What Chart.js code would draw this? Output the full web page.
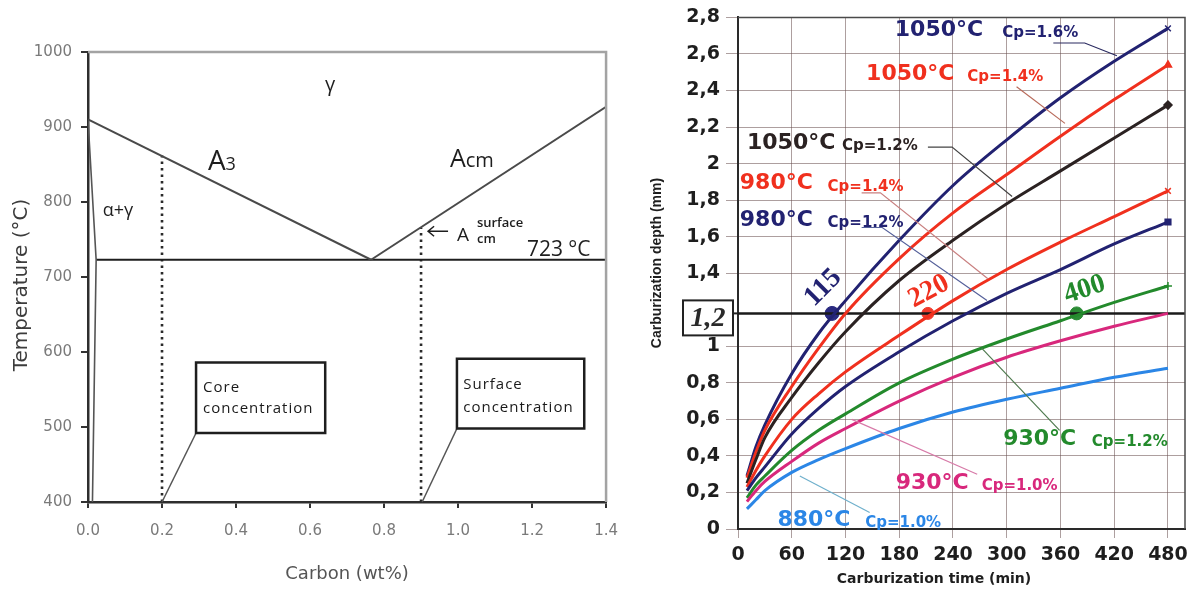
<!DOCTYPE html>
<html>
<head>
<meta charset="utf-8">
<script src="https://cdn.jsdelivr.net/npm/chart.js@4.4.0/dist/chart.umd.min.js"></script>
<style>
  body { margin: 0; background: #fff; width: 1195px; height: 593px; overflow: hidden; position: relative; }
  #phase { position: absolute; left: 0; top: 0; }
  #carb { position: absolute; left: 630px; top: 0; }
</style>
</head>
<body>
<canvas id="phase" width="632" height="593"></canvas>
<canvas id="carb" width="565" height="593"></canvas>
<script>
// ---- left: Fe-C corner of the phase diagram
const carbonTicks = [0, 0.2, 0.4, 0.6, 0.8, 1.0, 1.2, 1.4];
const tempTicks = [400, 500, 600, 700, 800, 900, 1000];
const a3Line = [[0, 910], [0.765, 723]];
const acmLine = [[0.765, 723], [1.4, 927]];
const eutectoid = [[0.022, 723], [1.4, 723]];
const alphaLine = [[0, 910], [0.022, 723], [0.012, 400]];
const coreCarbon = [[0.2, 400], [0.2, 862]];
const surfaceCarbon = [[0.9, 400], [0.9, 766]];

// ---- right: carburization depth vs time
const timeTicks = [0, 60, 120, 180, 240, 300, 360, 420, 480];
const depthTicks = [0, 0.2, 0.4, 0.6, 0.8, 1, 1.2, 1.4, 1.6, 1.8, 2, 2.2, 2.4, 2.6, 2.8];
const times = [10, 20, 30, 60, 90, 120, 180, 240, 300, 360, 420, 480];
const d1050cp16 = [0.29, 0.45, 0.57, 0.85, 1.07, 1.25, 1.58, 1.88, 2.13, 2.36, 2.56, 2.74];
const d1050cp14 = [0.28, 0.42, 0.54, 0.78, 0.99, 1.18, 1.48, 1.73, 1.94, 2.15, 2.35, 2.54];
const d1050cp12 = [0.25, 0.38, 0.50, 0.72, 0.91, 1.08, 1.36, 1.58, 1.78, 1.96, 2.14, 2.32];
const d980cp14 = [0.23, 0.32, 0.40, 0.60, 0.74, 0.86, 1.06, 1.25, 1.42, 1.57, 1.71, 1.85];
const d980cp12 = [0.21, 0.28, 0.34, 0.52, 0.66, 0.78, 0.97, 1.14, 1.29, 1.42, 1.56, 1.68];
const d930cp12 = [0.17, 0.24, 0.29, 0.43, 0.54, 0.63, 0.80, 0.93, 1.04, 1.14, 1.24, 1.33];
const d930cp10 = [0.15, 0.21, 0.26, 0.37, 0.47, 0.55, 0.70, 0.83, 0.94, 1.03, 1.11, 1.18];
const d880cp10 = [0.11, 0.16, 0.21, 0.31, 0.38, 0.44, 0.55, 0.64, 0.71, 0.77, 0.83, 0.88];
const targetDepth = 1.18;
const hitTimes = [105, 212, 378];
const hitLabels = ['115', '220', '400'];

const NAVY = '#222271', RED = '#f0301e', BLACK = '#2b2222', GREEN = '#238a2c', PINK = '#d8287c', BLUE = '#2b86e6';

const pts = arr => arr.map(p => ({x: p[0], y: p[1]}));
const seg = (arr, color, w, dash) => ({
  data: pts(arr), borderColor: color, borderWidth: w, borderDash: dash || [],
  pointRadius: 0, tension: 0, fill: false
});

function text(ctx, s, x, y, font, color, align, base, rot) {
  ctx.save();
  ctx.translate(x, y);
  if (rot) ctx.rotate(rot * Math.PI / 180);
  ctx.font = font;
  ctx.fillStyle = color;
  ctx.textAlign = align || 'left';
  ctx.textBaseline = base || 'middle';
  ctx.fillText(s, 0, 0);
  ctx.restore();
}

// callout boxes of the left chart, in carbon / temperature units
const callouts = [
  {c0: 0.292, c1: 0.641, t0: 586, t1: 492, lead: [0.2, 400], tx: 0.311, lines: [['Core', 553], ['concentration', 525]]},
  {c0: 0.997, c1: 1.341, t0: 591, t1: 498, lead: [0.903, 400], tx: 1.014, lines: [['Surface', 557], ['concentration', 526]]}
];

const phaseNotes = {
  id: 'phaseNotes',
  afterDatasetsDraw(chart) {
    const {ctx, chartArea: a, scales: {x, y}} = chart;
    const px = v => x.getPixelForValue(v), py = v => y.getPixelForValue(v);
    ctx.save();
    ctx.strokeStyle = '#a3a3a3';
    ctx.lineWidth = 2.5;
    ctx.beginPath();
    ctx.moveTo(a.left, a.top); ctx.lineTo(a.right, a.top); ctx.lineTo(a.right, a.bottom);
    ctx.stroke();

    callouts.forEach(b => {
      ctx.strokeStyle = '#555'; ctx.lineWidth = 1.5;
      ctx.beginPath();
      ctx.moveTo(px(b.lead[0]), py(b.lead[1]));
      ctx.lineTo(px(b.c0), py(b.t1));
      ctx.stroke();
      const bx = px(b.c0), by = py(b.t0), bw = px(b.c1) - bx, bh = py(b.t1) - by;
      ctx.fillStyle = '#fff'; ctx.fillRect(bx, by, bw, bh);
      ctx.strokeStyle = '#1e1e1e'; ctx.lineWidth = 2.5; ctx.strokeRect(bx, by, bw, bh);
      ctx.letterSpacing = '1px';
      b.lines.forEach(l => text(ctx, l[0], px(b.tx), py(l[1]), '15px "Open Sans"', '#1a1a1a'));
      ctx.letterSpacing = '0px';
    });

    const dark = '#1e1e1e';
    text(ctx, 'γ', px(0.654), py(956), '20px "Open Sans"', dark, 'center');
    text(ctx, 'α+γ', px(0.04), py(788), '18px "Open Sans"', dark);
    // A3
    ctx.font = '28px "Open Sans"';
    let w = ctx.measureText('A').width;
    text(ctx, 'A', px(0.324), py(843), '28px "Open Sans"', dark, 'left', 'alphabetic');
    text(ctx, '3', px(0.324) + w, py(843), '18px "Open Sans"', dark, 'left', 'alphabetic');
    // Acm
    ctx.font = '25px "Open Sans"';
    w = ctx.measureText('A').width;
    text(ctx, 'A', px(0.978), py(847), '25px "Open Sans"', dark, 'left', 'alphabetic');
    text(ctx, 'cm', px(0.978) + w, py(847), '20px "Open Sans"', dark, 'left', 'alphabetic');
    // arrow + A cm surface
    const ay = py(761);
    ctx.strokeStyle = dark; ctx.lineWidth = 1.5;
    ctx.beginPath();
    ctx.moveTo(px(0.973), ay); ctx.lineTo(px(0.919), ay);
    ctx.moveTo(px(0.919) + 6, ay - 5); ctx.lineTo(px(0.919), ay); ctx.lineTo(px(0.919) + 6, ay + 5);
    ctx.stroke();
    text(ctx, 'A', px(0.997), py(748), '19px "Open Sans"', dark, 'left', 'alphabetic');
    text(ctx, 'surface', px(1.051), py(771), '600 13px "Open Sans"', dark);
    text(ctx, 'cm', px(1.051), py(750), '600 13px "Open Sans"', dark);
    text(ctx, '723 °C', px(1.186), py(728), '21px "Open Sans"', dark, 'left', 'alphabetic');

    // axis titles
    text(ctx, 'Temperature (°C)', 22, (a.top + a.bottom) / 2 + 8, '20px "DejaVu Sans"', '#3c3c3c', 'center', 'middle', -90);
    text(ctx, 'Carbon (wt%)', (a.left + a.right) / 2, 574, '18px "DejaVu Sans"', '#555', 'center');
    ctx.restore();
  }
};

new Chart(document.getElementById('phase'), {
  type: 'line',
  data: {
    datasets: [
      seg(a3Line, '#4a4a4a', 2),
      seg(acmLine, '#4a4a4a', 2),
      seg(alphaLine, '#555', 1.6),
      seg(eutectoid, '#1e1e1e', 2.2),
      seg(coreCarbon, '#2a2a2a', 2.6, [2.5, 4]),
      seg(surfaceCarbon, '#2a2a2a', 2.6, [2.5, 4])
    ]
  },
  options: {
    responsive: false,
    animation: false,
    layout: {padding: {left: 0, right: 12, top: 52, bottom: 0}},
    plugins: {legend: {display: false}, tooltip: {enabled: false}},
    scales: {
      x: {
        type: 'linear', min: 0, max: 1.4,
        afterBuildTicks: s => { s.ticks = carbonTicks.map(v => ({value: v})); },
        afterFit: s => { s.height = 91; },
        grid: {drawOnChartArea: false, tickLength: 6, color: '#333', lineWidth: 2},
        border: {color: '#2e2e2e', width: 2.5},
        ticks: {padding: 14, color: '#7a7a7a', font: {family: 'DejaVu Sans', size: 15}, callback: v => v.toFixed(1)}
      },
      y: {
        type: 'linear', min: 400, max: 1000,
        afterBuildTicks: s => { s.ticks = tempTicks.map(v => ({value: v})); },
        afterFit: s => { s.width = 88; },
        grid: {drawOnChartArea: false, tickLength: 7, color: '#333', lineWidth: 2},
        border: {color: '#2e2e2e', width: 2.5},
        ticks: {padding: 9, color: '#7a7a7a', font: {family: 'DejaVu Sans', size: 15}, callback: v => String(v)}
      }
    }
  },
  plugins: [phaseNotes]
});

// ---- right chart
const curveNotes = [
  {temp: '1050°C', cp: 'Cp=1.6%', t: 175, cpT: 295, d: 2.73, color: NAVY, lead: '#2a2a60', path: [[352, 2.66], [387, 2.66], [423, 2.59]]},
  {temp: '1050°C', cp: 'Cp=1.4%', t: 143, cpT: 256, d: 2.49, color: RED, lead: '#b86a5a', path: [[311, 2.42], [365, 2.22]]},
  {temp: '1050°C', cp: 'Cp=1.2%', t: 10, cpT: 116, d: 2.11, color: BLACK, lead: '#444', path: [[212, 2.09], [239, 2.09], [306, 1.82]]},
  {temp: '980°C', cp: 'Cp=1.4%', t: 2, cpT: 100, d: 1.89, color: RED, lead: '#c98080', path: [[138, 1.84], [159, 1.84], [279, 1.37]]},
  {temp: '980°C', cp: 'Cp=1.2%', t: 2, cpT: 100, d: 1.69, color: NAVY, lead: '#55609a', path: [[138, 1.65], [161, 1.65], [278, 1.25]]},
  {temp: '930°C', cp: 'Cp=1.2%', t: 296, cpT: 395, d: 0.49, color: GREEN, lead: '#4f7a4f', path: [[359, 0.54], [272, 0.99]]},
  {temp: '930°C', cp: 'Cp=1.0%', t: 176, cpT: 272, d: 0.25, color: PINK, lead: '#d77aa8', path: [[267, 0.30], [127, 0.60]]},
  {temp: '880°C', cp: 'Cp=1.0%', t: 44, cpT: 142, d: 0.05, color: BLUE, lead: '#6fb0cc', path: [[147, 0.09], [69, 0.29]]}
];
const hitNotes = [
  {t: 95, d: 1.32, rot: -45, color: NAVY},
  {t: 213, d: 1.30, rot: -28, color: RED},
  {t: 387, d: 1.31, rot: -18, color: GREEN}
];

const carbNotes = {
  id: 'carbNotes',
  afterDatasetsDraw(chart) {
    const {ctx, chartArea: a, scales: {x, y}} = chart;
    const px = v => x.getPixelForValue(v), py = v => y.getPixelForValue(v);
    ctx.save();
    ctx.strokeStyle = '#4a4a4a'; ctx.lineWidth = 1.5;
    ctx.beginPath();
    ctx.moveTo(a.left, a.top); ctx.lineTo(a.right, a.top); ctx.lineTo(a.right, a.bottom);
    ctx.stroke();

    curveNotes.forEach(n => {
      ctx.strokeStyle = n.lead; ctx.lineWidth = 1.2;
      ctx.beginPath();
      n.path.forEach((p, i) => i ? ctx.lineTo(px(p[0]), py(p[1])) : ctx.moveTo(px(p[0]), py(p[1])));
      ctx.stroke();
      text(ctx, n.temp, px(n.t), py(n.d), 'bold 22px "DejaVu Sans"', n.color);
      text(ctx, n.cp, px(n.cpT), py(n.d) + 3, 'bold 15px "DejaVu Sans"', n.color);
    });

    hitNotes.forEach((h, i) => text(ctx, hitLabels[i], px(h.t), py(h.d), 'bold 28px "Liberation Serif"', h.color, 'center', 'middle', h.rot));

    // boxed 1,2 label in front of the target line
    const cy = py(targetDepth) + 4;
    ctx.fillStyle = '#fff';
    ctx.fillRect(a.left - 55, cy - 17, 50, 35);
    ctx.strokeStyle = '#222'; ctx.lineWidth = 2;
    ctx.strokeRect(a.left - 55, cy - 17, 50, 35);
    ctx.beginPath(); ctx.moveTo(a.left - 5, py(targetDepth)); ctx.lineTo(a.left, py(targetDepth)); ctx.stroke();
    text(ctx, '1,2', a.left - 30, cy + 1, 'italic bold 28px "Liberation Serif"', '#2a2a2a', 'center');

    text(ctx, 'Carburization depth (mm)', 27, 263, 'bold 14px "Liberation Sans"', '#1e1e1e', 'center', 'middle', -90);
    text(ctx, 'Carburization time (min)', 304, 579, 'bold 14px "DejaVu Sans"', '#1e1e1e', 'center');
    ctx.restore();
  }
};

const gridColor = 'rgba(105,80,80,0.55)';
const curve = (vals, color, style) => ({
  data: times.map((t, i) => ({x: t, y: vals[i]})),
  borderColor: color, backgroundColor: color, borderWidth: 3,
  cubicInterpolationMode: 'monotone', fill: false,
  pointStyle: style || 'circle',
  pointRadius: c => (style && c.dataIndex === times.length - 1) ? 4 : 0,
  pointBorderWidth: 1.5
});

new Chart(document.getElementById('carb'), {
  type: 'line',
  data: {
    datasets: [
      curve(d880cp10, BLUE),
      curve(d930cp10, PINK),
      curve(d930cp12, GREEN, 'cross'),
      curve(d980cp12, NAVY, 'rect'),
      curve(d980cp14, RED, 'crossRot'),
      curve(d1050cp12, BLACK, 'rectRot'),
      curve(d1050cp14, RED, 'triangle'),
      curve(d1050cp16, NAVY, 'crossRot'),
      {
        data: [{x: 0, y: targetDepth}, {x: 499, y: targetDepth}],
        borderColor: '#1a1a1a', borderWidth: 2.5, pointRadius: 0, tension: 0
      },
      {
        data: hitTimes.map(t => ({x: t, y: targetDepth})),
        showLine: false,
        pointRadius: [7, 6, 6.5],
        pointBackgroundColor: ['#2a2a80', '#f23a2c', '#2c8c36'],
        pointBorderColor: ['#2a2a80', '#f23a2c', '#2c8c36']
      }
    ]
  },
  options: {
    responsive: false,
    animation: false,
    layout: {padding: {left: 0, right: 10, top: 11, bottom: 0}},
    plugins: {legend: {display: false}, tooltip: {enabled: false}},
    scales: {
      x: {
        type: 'linear', min: 0, max: 499,
        afterBuildTicks: s => { s.ticks = timeTicks.map(v => ({value: v})); },
        afterFit: s => { s.height = 64; },
        grid: {color: gridColor, lineWidth: 1, tickLength: 9},
        border: {color: '#2a2a2a', width: 2},
        ticks: {padding: 6, color: '#1e1e1e', font: {family: 'DejaVu Sans', size: 19, weight: 'bold'}}
      },
      y: {
        type: 'linear', min: 0, max: 2.8,
        afterBuildTicks: s => { s.ticks = depthTicks.map(v => ({value: v})); },
        afterFit: s => { s.width = 108; },
        grid: {color: c => (c.tick && c.tick.value === 1.2) ? 'rgba(0,0,0,0)' : gridColor, lineWidth: 1, tickLength: 12},
        border: {color: '#2a2a2a', width: 2},
        ticks: {
          padding: 6, color: '#1e1e1e', font: {family: 'DejaVu Sans', size: 19, weight: 'bold'},
          callback: v => v === 1.2 ? '' : String(v).replace('.', ',')
        }
      }
    }
  },
  plugins: [carbNotes]
});
</script>
</body>
</html>
